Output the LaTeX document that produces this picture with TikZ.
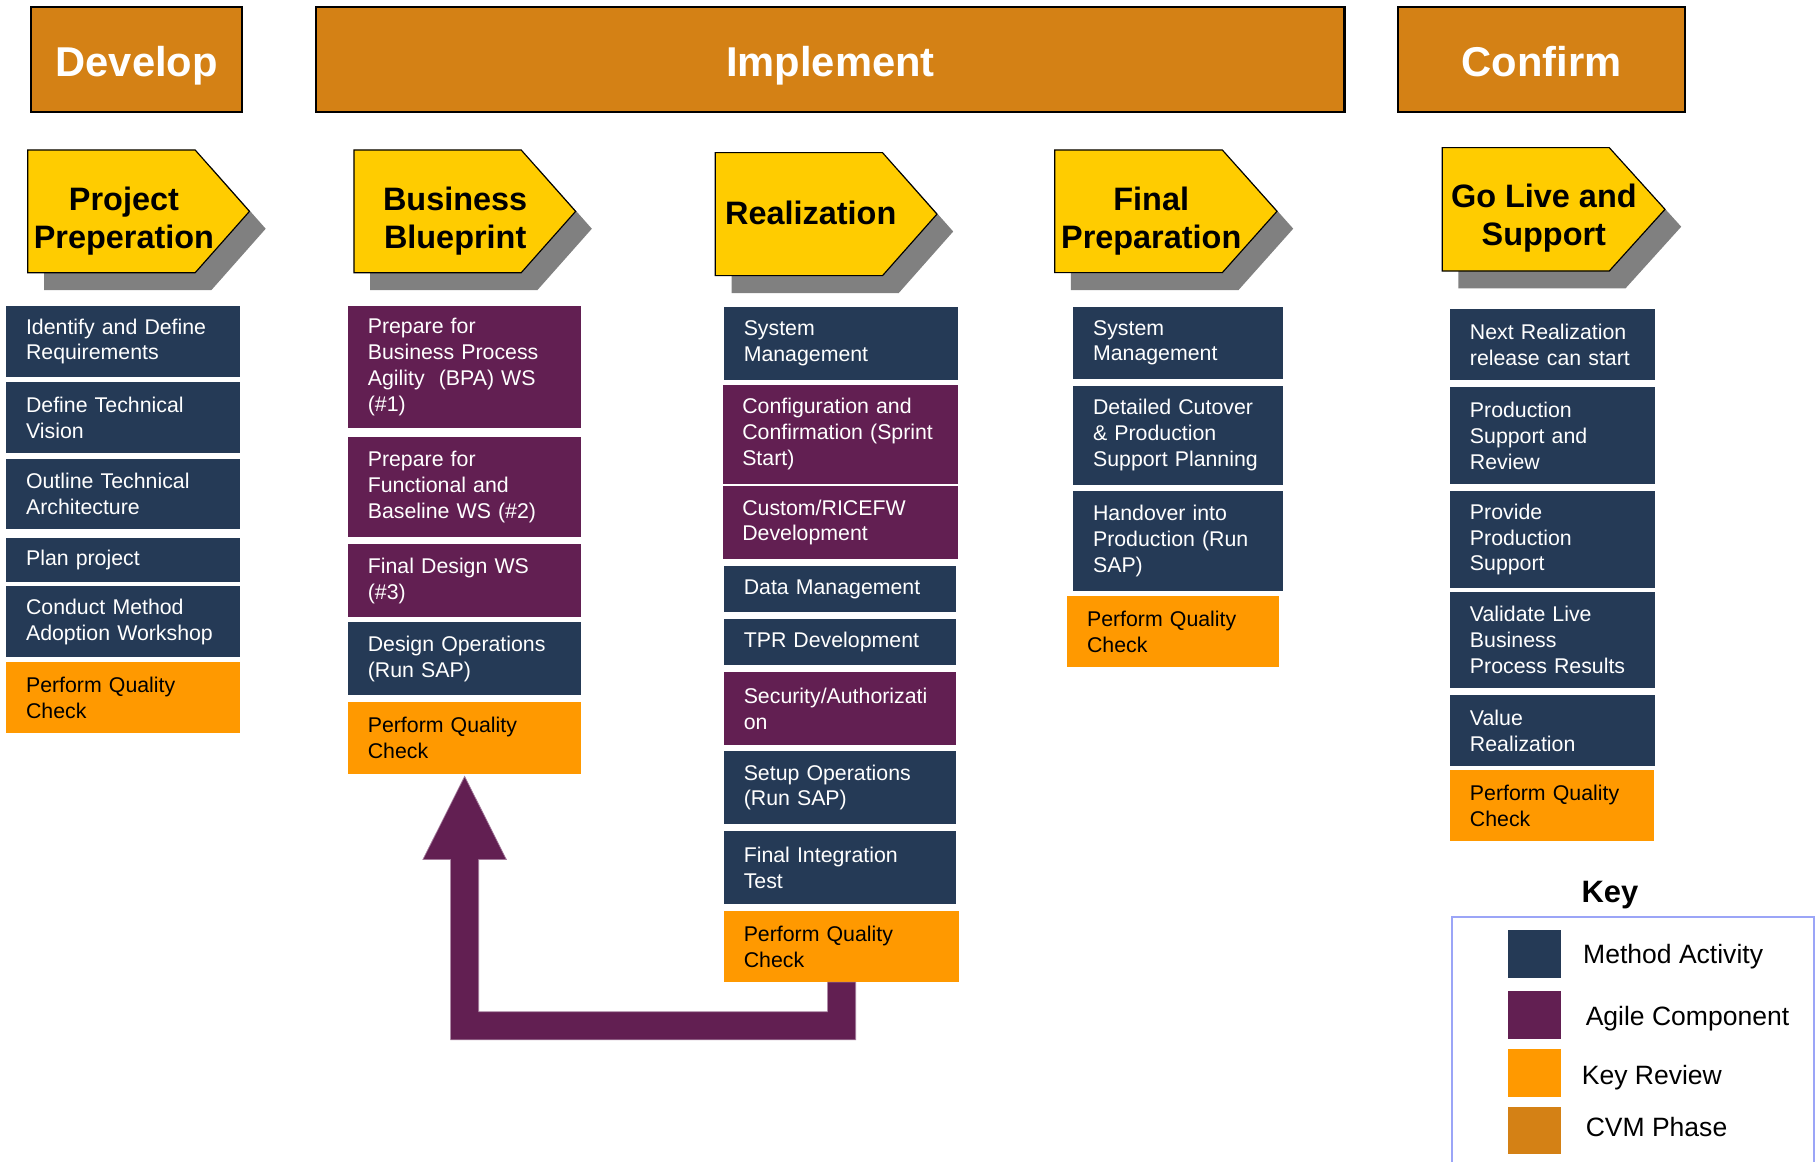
\documentclass[tikz,border=0pt]{standalone}
\usepackage{fontspec}
\setmainfont{Liberation Sans}
\usetikzlibrary{calc}
\definecolor{navyc}{HTML}{253A56}
\definecolor{purpc}{HTML}{621F52}
\definecolor{qcc}{HTML}{FF9900}
\definecolor{cvmc}{HTML}{D48115}
\definecolor{yelc}{HTML}{FFCC00}
\definecolor{shadc}{HTML}{808080}
\definecolor{keyc}{HTML}{9BA5F7}
\definecolor{arrowedge}{HTML}{A27A9A}
\newcommand\chevshape[5]{%
  \fill[chevshadow] ({#1+14},{#4+15}) -- ({#2+14},{#4+15}) -- ({#3+14},{(#4+#5)/2+15}) -- ({#2+14},{#5+15}) -- ({#1+14},{#5+15}) -- cycle;
  \draw[chevron] (#1,#4) -- (#2,#4) -- (#3,{(#4+#5)/2}) -- (#2,#5) -- (#1,#5) -- cycle;}
\begin{document}
\begin{tikzpicture}[x=1pt,y=-1pt,
  phase/.style={draw=black, line width=2pt, fill=cvmc, text=white, anchor=north west, inner sep=0pt, text height=28.8pt, text depth=0pt, font=\fontsize{36}{40}\selectfont\bfseries},
  actbox/.style={anchor=north west, inner xsep=17pt, inner ysep=0pt, align=left, font=\fontsize{18.4}{22.3}\selectfont},
  navybox/.style={actbox, fill=navyc, text=white},
  purpbox/.style={actbox, fill=purpc, text=white},
  qcbox/.style={actbox, fill=qcc, text=black},
  chevron/.style={fill=yelc, draw=black, line width=1pt, line join=miter},
  chevshadow/.style={fill=shadc},
  chevtext/.style={align=center, inner sep=0pt, font=\fontsize{28}{33}\selectfont\bfseries},
  keytext/.style={anchor=base west, inner sep=0pt, font=\fontsize{22.9}{26}\selectfont},
  swatch/.style={anchor=north west, inner sep=0pt, minimum width=46pt},
]
\useasboundingbox (0,0) rectangle (1568,1003);
\fill[white] (0,0) rectangle (1568,1003);

% phase bars
\node[phase, minimum width=182pt, minimum height=91pt] (develop) at (26,5) {Develop};
\node[phase, minimum width=888pt, minimum height=91pt] (implement) at (272,5) {Implement};
\node[phase, minimum width=248pt, minimum height=91pt] (confirm) at (1206,5) {Confirm};

% chevrons
\chevshape{24}{168.5}{215.4}{129.5}{235.5}
\chevshape{305.6}{450}{497}{129.5}{235.5}
\chevshape{617.6}{762}{809}{131.8}{238}
\chevshape{910.7}{1055.4}{1102.6}{129.5}{235.4}
\chevshape{1245.3}{1389.5}{1437.6}{127.5}{234}
\node[chevtext] (ch1) at (107,191) {Project\\Preperation};
\node[chevtext] (ch2) at (393,191) {Business\\Blueprint};
\node[chevtext] (ch3) at (700,184) {Realization};
\node[chevtext] (ch4) at (994,191) {Final\\Preparation};
\node[chevtext] (ch5) at (1333,188) {Go Live and\\Support};

% column 1
\node[navybox, text width=167.7pt, minimum height=61pt] (c1a) at (5.3,264.2) {Identify and Define\\Requirements};
\node[navybox, text width=167.7pt, minimum height=60.9pt] (c1b) at (5.3,330) {Define Technical\\Vision};
\node[navybox, text width=167.7pt, minimum height=60.8pt] (c1c) at (5.3,395.7) {Outline Technical\\Architecture};
\node[navybox, text width=167.7pt, minimum height=38.3pt] (c1d) at (5.3,463.9) {Plan project};
\node[navybox, text width=167.7pt, minimum height=61pt] (c1e) at (5.3,506) {Conduct Method\\Adoption Workshop};
\node[qcbox, text width=167.7pt, minimum height=60.8pt] (c1f) at (5.3,571.8) {Perform Quality\\Check};

% column 2
\node[purpbox, text width=167.2pt, minimum height=105.1pt] (c2a) at (300.4,264.2) {Prepare for\\Business Process\\Agility\ \ (BPA) WS\\(\#1)};
\node[purpbox, text width=167.2pt, minimum height=86.1pt] (c2b) at (300.4,377.3) {Prepare for\\Functional and\\Baseline WS (\#2)};
\node[purpbox, text width=167.2pt, minimum height=62.8pt] (c2c) at (300.4,469.7) {Final Design WS\\(\#3)};
\node[navybox, text width=167.2pt, minimum height=63pt] (c2d) at (300.4,537) {Design Operations\\(Run SAP)};
\node[qcbox, text width=167.2pt, minimum height=62pt] (c2e) at (300.4,606) {Perform Quality\\Check};

% column 3
\node[navybox, text width=168pt, minimum height=62.2pt] (c3a) at (625,265.3) {System\\Management};
\node[purpbox, text width=169.3pt, minimum height=85.5pt] (c3b) at (623.7,331.8) {Configuration and\\Confirmation (Sprint\\Start)};
\node[purpbox, text width=169.3pt, minimum height=62.8pt] (c3c) at (623.7,419.6) {Custom/RICEFW\\Development};
\node[navybox, text width=166pt, minimum height=39.5pt] (c3d) at (625,488.7) {Data Management};
\node[navybox, text width=166pt, minimum height=39.5pt] (c3e) at (625,534.5) {TPR Development};
\node[purpbox, text width=166pt, minimum height=62.8pt] (c3f) at (625,580.2) {Security/Authorizati\\on};
\node[navybox, text width=166pt, minimum height=62.8pt] (c3g) at (625,648.4) {Setup Operations\\(Run SAP)};
\node[navybox, text width=166pt, minimum height=62.8pt] (c3h) at (625,717.5) {Final Integration\\Test};
\node[qcbox, text width=169pt, minimum height=61pt] (c3i) at (625,786.6) {Perform Quality\\Check};

% column 4
\node[navybox, text width=147.1pt, minimum height=62.5pt] (c4a) at (926.6,264.5) {System\\Management};
\node[navybox, text width=147.1pt, minimum height=85.5pt] (c4b) at (926.6,332.7) {Detailed Cutover\\\& Production\\Support Planning};
\node[navybox, text width=147.1pt, minimum height=86pt] (c4c) at (926.6,424) {Handover into\\Production (Run\\SAP)};
\node[qcbox, text width=148.6pt, minimum height=61.1pt] (c4d) at (921.4,514.6) {Perform Quality\\Check};

% column 5
\node[navybox, text width=143pt, minimum height=61pt] (c5a) at (1252,266.8) {Next Realization\\release can start};
\node[navybox, text width=143pt, minimum height=83.4pt] (c5b) at (1252,334.2) {Production\\Support and\\Review};
\node[navybox, text width=143pt, minimum height=83.4pt] (c5c) at (1252,424) {Provide\\Production\\Support};
\node[navybox, text width=143pt, minimum height=82.9pt] (c5d) at (1252,510.8) {Validate Live\\Business\\Process Results};
\node[navybox, text width=143pt, minimum height=61.4pt] (c5e) at (1252,600.2) {Value\\Realization};
\node[qcbox, text width=142pt, minimum height=61pt] (c5f) at (1252,665) {Perform Quality\\Check};

% feedback arrow
\fill[purpc, draw=arrowedge, line width=0.6pt] let \p1=(c3i.south), \p2=(c2e.south) in
  (\x1-12.1pt,\y1) -- (\x1+12.1pt,\y1) -- (\x1+12.1pt,\y1-49.8pt) -- (\x2-12.1pt,\y1-49.8pt)
  -- (\x2-12.1pt,\y2-73.7pt) -- (\x2-36pt,\y2-73.7pt) -- (\x2,\y2-2pt) -- (\x2+36pt,\y2-73.7pt)
  -- (\x2+12.1pt,\y2-73.7pt) -- (\x2+12.1pt,\y1-25.6pt) -- (\x1-12.1pt,\y1-25.6pt) -- cycle;

% key
\node[inner sep=0pt, font=\fontsize{26.7}{30}\selectfont\bfseries] (keytitle) at (1390,773) {Key};
\draw[keyc, line width=1.5pt] (1253.4,1010) -- (1253.4,792) -- (1566.5,792) -- (1566.5,1010);
\node[swatch, fill=navyc, minimum height=41.6pt] (k1) at (1302,802.4) {};
\node[swatch, fill=purpc, minimum height=41.2pt] (k2) at (1302,855.8) {};
\node[swatch, fill=qcc, minimum height=41.2pt] (k3) at (1302,905.8) {};
\node[swatch, fill=cvmc, minimum height=41.1pt] (k4) at (1302,955.2) {};
\node[keytext] (k1t) at (1366.8,832) {Method Activity};
\node[keytext] (k2t) at (1369,885.5) {Agile Component};
\node[keytext] (k3t) at (1365.6,936) {Key Review};
\node[keytext] (k4t) at (1369,981.5) {CVM Phase};
\end{tikzpicture}
\end{document}
